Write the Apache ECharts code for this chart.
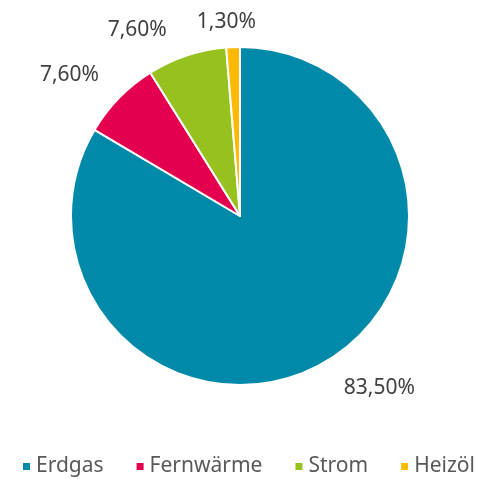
<!DOCTYPE html>
<html>
<head>
<meta charset="utf-8">
<script src="https://cdn.jsdelivr.net/npm/echarts@6/dist/echarts.min.js"></script>
<style>
  html, body { margin: 0; padding: 0; background: #fff; }
  #chart { width: 480px; height: 479px; }
</style>
</head>
<body>
<div id="chart"></div>
<script>
  // Energieträger
  var categories = ['Erdgas', 'Fernwärme', 'Strom', 'Heizöl'];
  var values = [83.5, 7.6, 7.6, 1.3];
  var colors = ['#0089A8', '#E4004F', '#96C11F', '#FFB900'];

  var pieCenter = [240, 216];
  var pieRadius = 169;

  var chart = echarts.init(document.getElementById('chart'));

  var total = values.reduce(function (a, b) { return a + b; }, 0);

  // Excel-artige Beschriftung: Ecke des Labels knapp außerhalb der Segmentmitte
  function placeLabel(params) {
    var i = params.dataIndex;
    var before = 0;
    for (var k = 0; k < i; k++) before += values[k];
    var a = (before + values[i] / 2) / total * Math.PI * 2;
    var dx = Math.sin(a), dy = -Math.cos(a);
    var px = pieCenter[0] + pieRadius * dx;
    var py = pieCenter[1] + pieRadius * dy;
    var w = params.labelRect.width, h = params.labelRect.height;
    var mx = w / 2 + 20, my = h / 2 + 15;
    var ox = Math.max(-mx, Math.min(mx, dx * 165));
    var oy = Math.max(-my, Math.min(my, dy * 33));
    return { x: px + ox, y: py + oy, align: 'center', verticalAlign: 'middle' };
  }

  var pieData = categories.map(function (name, i) {
    return { name: name, value: values[i], itemStyle: { color: colors[i] } };
  });

  var option = {
    animation: false,
    legend: {
      top: 451,
      left: 16,
      icon: 'rect',
      itemWidth: 9,
      itemHeight: 9,
      itemGap: 31,
      textStyle: { fontFamily: 'Noto Sans', fontSize: 21, color: '#595959' },
      data: categories
    },
    series: [
      {
        type: 'pie',
        center: pieCenter,
        radius: pieRadius,
        startAngle: 90,
        clockwise: true,
        itemStyle: { borderColor: '#fff', borderWidth: 2 },
        label: {
          show: true,
          position: 'outside',
          fontFamily: 'Noto Sans',
          fontSize: 21,
          color: '#404040',
          formatter: function (p) {
            return p.value.toFixed(2).replace('.', ',') + '%';
          }
        },
        labelLine: { show: false, length: 10, length2: 0 },
        labelLayout: placeLabel,
        data: pieData
      }
    ]
  };
  chart.setOption(option);
</script>
</body>
</html>
